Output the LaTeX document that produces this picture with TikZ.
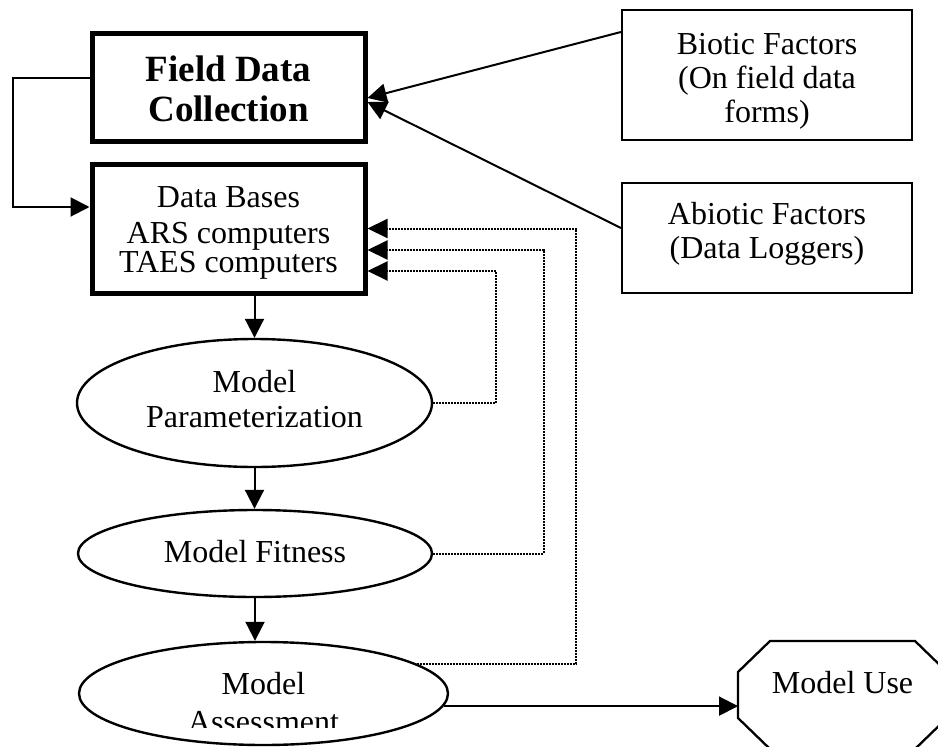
\documentclass[tikz,border=0pt]{standalone}
\usepackage{fontspec}
\setmainfont{Liberation Serif}
\usetikzlibrary{arrows.meta,shapes.geometric}
\begin{document}
\begin{tikzpicture}[x=1pt,y=-1pt,
  txt/.style={font=\fontsize{32}{34}\selectfont, align=center},
  heavybox/.style={draw, line width=5pt, inner sep=0pt},
  thinbox/.style={draw, line width=2.2pt, inner sep=0pt, txt},
  stage/.style={draw, ellipse, line width=2.4pt, inner sep=0pt, txt},
  arr/.style={line width=2pt, -{Triangle[length=19pt,width=19pt]}},
  fb/.style={line width=2pt, dash pattern=on 2pt off 1pt,
             -{Triangle[length=20pt,width=19pt]}},
]
\useasboundingbox (0,0) rectangle (938,747);
\clip (0,0) rectangle (938,747);
\fill[white] (0,0) rectangle (938,747);

% data sources
\node[heavybox, minimum width=273pt, minimum height=108pt,
      font=\fontsize{37}{40}\selectfont\bfseries, align=center]
      (field) at (228.5,87) {\rule{0pt}{30pt}Field Data\\Collection};
\node[heavybox, txt, minimum width=273pt, minimum height=129pt]
      (db) at (228.5,228.5)
      {\rule{0pt}{29pt}Data Bases\\[2pt]ARS computers\\[-5pt]TAES computers};
\node[thinbox, minimum width=290pt, minimum height=130pt]
      (bio) at (767,75) {\rule{0pt}{34pt}Biotic Factors\\(On field data\\forms)};
\node[thinbox, minimum width=290pt, minimum height=110pt]
      (abio) at (767,238) {Abiotic Factors\\(Data Loggers)\rule[-15pt]{0pt}{15pt}};

% model stages
\node[stage, minimum width=355pt, minimum height=128pt]
      (par) at (254.5,403) {Model\\[1pt]Parameterization\rule[-9pt]{0pt}{9pt}};
\node[stage, minimum width=354pt, minimum height=87pt]
      (fit) at (255,553.5) {Model Fitness\rule[-5pt]{0pt}{5pt}};
\node[stage, minimum width=369pt, minimum height=103pt]
      (assess) at (263.5,693.5) {};
\begin{scope}
  \clip (79,600) rectangle (448,727);
  \node[txt, inner sep=0pt] (asmtxt) at (263.5,703) {Model\\[4pt]Assessment};
\end{scope}

% model use (octagon)
\node[txt, inner sep=0pt, outer sep=0pt, minimum width=209pt, minimum height=108pt]
      (use) at (842.5,695) {Model Use\rule[-26pt]{0pt}{26pt}};
\draw[line width=2.3pt]
  ([xshift=32pt]use.north west) -- ([xshift=-32pt]use.north east)
  -- ([yshift=-31pt]use.north east) -- ([yshift=31pt]use.south east)
  -- ([xshift=-32pt]use.south east) -- ([xshift=32pt]use.south west)
  -- ([yshift=31pt]use.south west) -- ([yshift=-31pt]use.north west) -- cycle;

% connectors
\coordinate (lb) at (13,207);
\draw[arr] ([yshift=9pt]field.west) -| (lb) -- ([yshift=21.5pt]db.west);
\draw[arr] ([yshift=43pt]bio.west) -- ([yshift=-11pt]field.east);
\draw[arr] ([yshift=10pt]abio.west) -- ([yshift=-15pt]field.east);

\draw[arr] (db.south -| par.north) -- (par.north);
\draw[arr] (par.south) -- (par.south |- fit.north);
\draw[arr] (fit.south) -- (fit.south |- assess.north);
\draw[arr] (assess.-4.5) -- (assess.-4.5 -| use.west);

% feedback loops
\coordinate (k1) at (576,228.5);
\coordinate (k2) at (544,250);
\coordinate (k3) at (496,271);
\draw[fb] (assess.11) -| (k1) -- (db.east);
\draw[fb] (fit.east) -| (k2) -- ([yshift=-21.5pt]db.east);
\draw[fb] (par.east) -| (k3) -- ([yshift=-42.5pt]db.east);
\end{tikzpicture}
\end{document}
